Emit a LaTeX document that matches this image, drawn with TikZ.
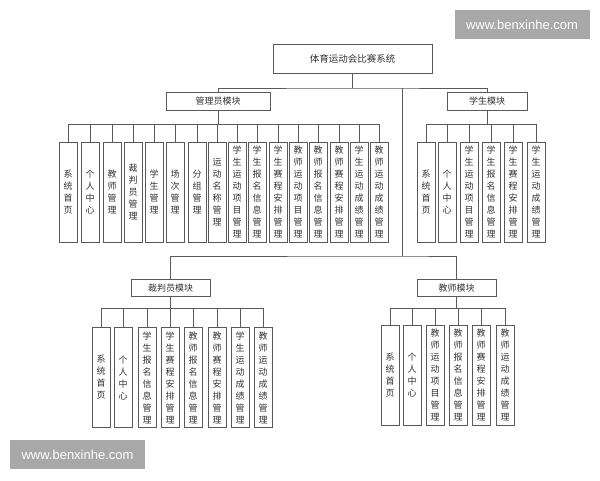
\documentclass[tikz,border=0pt]{standalone}
\usepackage{fontspec}
\setmainfont{Noto Sans CJK SC}
\newfontfamily\wmfont{Liberation Sans}
\tikzset{
  sysbox/.style={draw=black!65, line width=0.8pt, minimum width=159pt, minimum height=29pt, text=black!80, font=\fontsize{9.5}{11}\selectfont},
  modbox/.style={draw=black!65, line width=0.8pt, minimum height=17.5pt, inner sep=0pt, text=black!80, font=\fontsize{9}{11}\selectfont},
  leafbox/.style={draw=black!65, line width=0.8pt, minimum width=18pt, minimum height=100pt, inner sep=0pt, align=center, text=black!80, font=\fontsize{9}{12}\selectfont},
  link/.style={draw=black!65, line width=0.8pt},
  wmbox/.style={fill=black!34, text=white, minimum width=135pt, minimum height=29pt, font=\wmfont\fontsize{13}{15}\selectfont}
}
\begin{document}
\begin{tikzpicture}[x=1pt,y=-1pt]
\fill[white] (0,0) rectangle (600,480);
\useasboundingbox (0,0) rectangle (600,480);

% watermarks
\node[wmbox] (wm1) at (522,24.5) {www.benxinhe.com};
\node[wmbox] (wm2) at (77.5,454.5) {www.benxinhe.com};

% top
\node[sysbox] (sys) at (352.5,58.5) {体育运动会比赛系统};
\coordinate (sysbus) at (352.5,88);
\coordinate (trunk) at (402,256);

% modules
\node[modbox, minimum width=104pt] (adm) at (218,101.5) {管理员模块};
\node[modbox, minimum width=80pt] (stu) at (487,101.5) {学生模块};
\node[modbox, minimum width=79pt] (ref) at (170.5,288) {裁判员模块};
\node[modbox, minimum width=79pt] (tea) at (456.5,288) {教师模块};

\draw[link] (sys) -- (sysbus);
\draw[link] (adm.north) |- (sysbus) -| (stu.north);
\draw[link] (trunk) -- (trunk |- sysbus);
\draw[link] (ref.north) |- (trunk) -| (tea.north);

% admin
\node[leafbox] (a1) at (68,192) {系\\统\\首\\页};
\node[leafbox] (a2) at (90,192) {个\\人\\中\\心};
\node[leafbox] (a3) at (112,192) {教\\师\\管\\理};
\node[leafbox] (a4) at (133,192) {裁\\判\\员\\管\\理};
\node[leafbox] (a5) at (154,192) {学\\生\\管\\理};
\node[leafbox] (a6) at (175,192) {场\\次\\管\\理};
\node[leafbox] (a7) at (197,192) {分\\组\\管\\理};
\node[leafbox] (a8) at (217,192) {运\\动\\名\\称\\管\\理};
\node[leafbox] (a9) at (237,192) {学\\生\\运\\动\\项\\目\\管\\理};
\node[leafbox] (a10) at (257,192) {学\\生\\报\\名\\信\\息\\管\\理};
\node[leafbox] (a11) at (278,192) {学\\生\\赛\\程\\安\\排\\管\\理};
\node[leafbox] (a12) at (298,192) {教\\师\\运\\动\\项\\目\\管\\理};
\node[leafbox] (a13) at (318,192) {教\\师\\报\\名\\信\\息\\管\\理};
\node[leafbox] (a14) at (339,192) {教\\师\\赛\\程\\安\\排\\管\\理};
\node[leafbox] (a15) at (359,192) {学\\生\\运\\动\\成\\绩\\管\\理};
\node[leafbox] (a16) at (379,192) {教\\师\\运\\动\\成\\绩\\管\\理};
\coordinate (admbus) at (218,124);
\draw[link] (adm) -- (admbus);
\draw[link] (a1.north) |- (admbus) (a2.north) |- (admbus) (a3.north) |- (admbus)
  (a4.north) |- (admbus) (a5.north) |- (admbus) (a6.north) |- (admbus)
  (a7.north) |- (admbus) (a8.north) |- (admbus) (a9.north) |- (admbus)
  (a10.north) |- (admbus) (a11.north) |- (admbus) (a12.north) |- (admbus)
  (a13.north) |- (admbus) (a14.north) |- (admbus) (a15.north) |- (admbus)
  (a16.north) |- (admbus);

% student
\node[leafbox] (s1) at (426,192) {系\\统\\首\\页};
\node[leafbox] (s2) at (447,192) {个\\人\\中\\心};
\node[leafbox] (s3) at (469,192) {学\\生\\运\\动\\项\\目\\管\\理};
\node[leafbox] (s4) at (491,192) {学\\生\\报\\名\\信\\息\\管\\理};
\node[leafbox] (s5) at (513,192) {学\\生\\赛\\程\\安\\排\\管\\理};
\node[leafbox] (s6) at (536,192) {学\\生\\运\\动\\成\\绩\\管\\理};
\coordinate (stubus) at (487,124);
\draw[link] (stu) -- (stubus);
\draw[link] (s1.north) |- (stubus) (s2.north) |- (stubus) (s3.north) |- (stubus)
  (s4.north) |- (stubus) (s5.north) |- (stubus) (s6.north) |- (stubus);

% referee
\node[leafbox] (r1) at (101,377.5) {系\\统\\首\\页};
\node[leafbox] (r2) at (123,377.5) {个\\人\\中\\心};
\node[leafbox] (r3) at (147,377.5) {学\\生\\报\\名\\信\\息\\管\\理};
\node[leafbox] (r4) at (170,377.5) {学\\生\\赛\\程\\安\\排\\管\\理};
\node[leafbox] (r5) at (193,377.5) {教\\师\\报\\名\\信\\息\\管\\理};
\node[leafbox] (r6) at (217,377.5) {教\\师\\赛\\程\\安\\排\\管\\理};
\node[leafbox] (r7) at (240,377.5) {学\\生\\运\\动\\成\\绩\\管\\理};
\node[leafbox] (r8) at (263,377.5) {教\\师\\运\\动\\成\\绩\\管\\理};
\coordinate (refbus) at (170.5,308);
\draw[link] (ref) -- (refbus);
\draw[link] (r1.north) |- (refbus) (r2.north) |- (refbus) (r3.north) |- (refbus)
  (r4.north) |- (refbus) (r5.north) |- (refbus) (r6.north) |- (refbus)
  (r7.north) |- (refbus) (r8.north) |- (refbus);

% teacher
\node[leafbox] (t1) at (390,375) {系\\统\\首\\页};
\node[leafbox] (t2) at (412,375) {个\\人\\中\\心};
\node[leafbox] (t3) at (435,375) {教\\师\\运\\动\\项\\目\\管\\理};
\node[leafbox] (t4) at (458,375) {教\\师\\报\\名\\信\\息\\管\\理};
\node[leafbox] (t5) at (481,375) {教\\师\\赛\\程\\安\\排\\管\\理};
\node[leafbox] (t6) at (505,375) {教\\师\\运\\动\\成\\绩\\管\\理};
\coordinate (teabus) at (456.5,308);
\draw[link] (tea) -- (teabus);
\draw[link] (t1.north) |- (teabus) (t2.north) |- (teabus) (t3.north) |- (teabus)
  (t4.north) |- (teabus) (t5.north) |- (teabus) (t6.north) |- (teabus);
\end{tikzpicture}
\end{document}
